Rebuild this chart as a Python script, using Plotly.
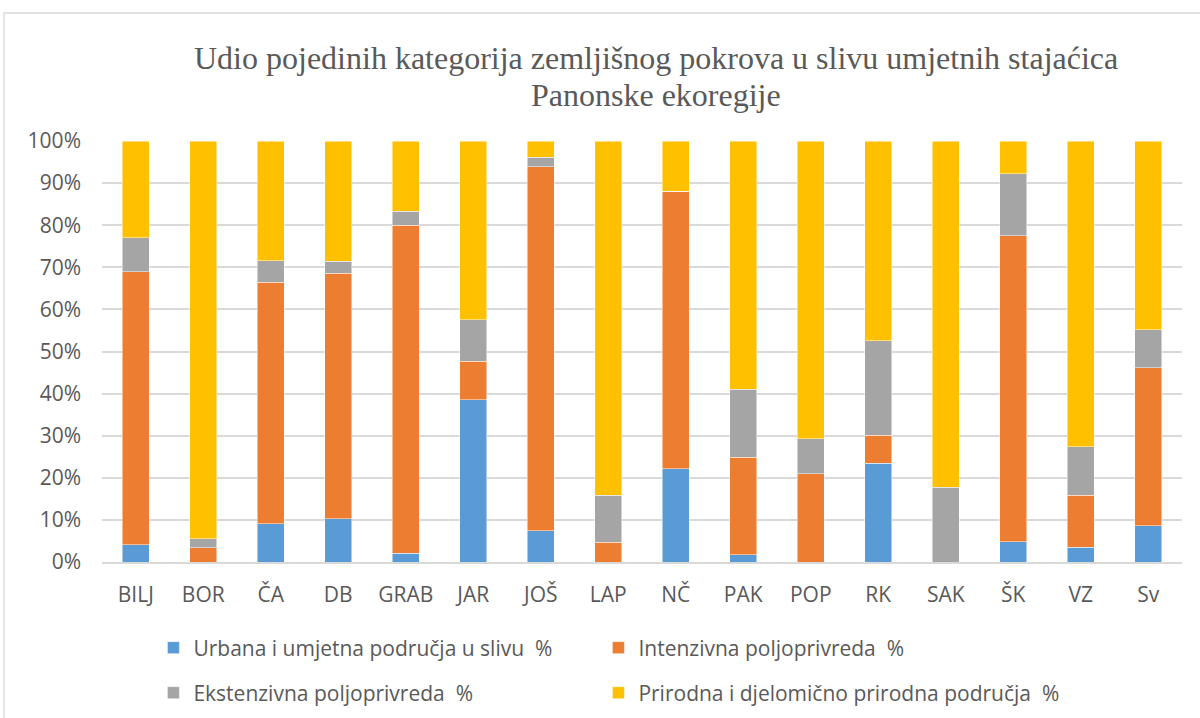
import plotly.graph_objects as go

# Land cover shares per reservoir catchment (percent)
sites = ["BILJ", "BOR", "ČA", "DB", "GRAB", "JAR", "JOŠ", "LAP",
         "NČ", "PAK", "POP", "RK", "SAK", "ŠK", "VZ", "Sv"]
urbana = [4.1, 0.0, 9.1, 10.3, 2.1, 38.5, 7.4, 0.0,
          22.2, 1.7, 0.0, 23.4, 0.0, 4.8, 3.5, 8.6]
intenzivna = [64.8, 3.4, 57.4, 58.3, 77.9, 9.2, 86.5, 4.7,
              65.9, 23.2, 21.0, 6.7, 0.0, 72.7, 12.4, 37.5]
ekstenzivna = [8.1, 2.1, 5.1, 2.8, 3.3, 9.9, 2.3, 11.1,
               0.0, 16.1, 8.3, 22.5, 17.8, 14.7, 11.5, 9.1]
prirodna = [23.0, 94.5, 28.4, 28.6, 16.7, 42.4, 3.8, 84.2,
            11.9, 59.0, 70.7, 47.4, 82.2, 7.8, 72.6, 44.8]

series = [
    ("Urbana i umjetna područja u slivu  %", urbana, "#5B9BD5", "legend", 400),
    ("Intenzivna poljoprivreda  %", intenzivna, "#ED7D31", "legend", 400),
    ("Ekstenzivna poljoprivreda  %", ekstenzivna, "#A5A5A5", "legend2", 400),
    ("Prirodna i djelomično prirodna područja  %", prirodna, "#FFC000", "legend2", 480),
]

title_lines = ["Udio pojedinih kategorija zemljišnog pokrova u slivu umjetnih stajaćica",
               "Panonske ekoregije"]

GREY = "#595959"
FONT = "Open Sans"

fig = go.Figure()
for name, vals, color, leg, lw in series:
    fig.add_trace(go.Bar(
        x=sites, y=vals, name=name, legend=leg, legendwidth=lw,
        marker=dict(color=color, line=dict(color="rgba(255,255,255,0.6)", width=0.8)),
    ))

legend_common = dict(
    orientation="h", xanchor="left", yanchor="middle", yref="container",
    entrywidthmode="pixels",
    font=dict(family=FONT, size=21, color=GREY),
    bgcolor="rgba(0,0,0,0)", traceorder="normal",
)

# two-line title as annotations so the line spacing can be controlled
title_anns = [
    dict(text=t, xref="paper", yref="paper", x=0.513, y=yy,
         xanchor="center", yanchor="middle", showarrow=False,
         font=dict(family="Liberation Serif", size=32, color=GREY))
    for t, yy in zip(title_lines, [1.197, 1.109])
]

fig.update_layout(
    width=1200, height=718,
    barmode="stack", barnorm="percent", bargap=0.6,
    paper_bgcolor="white", plot_bgcolor="white",
    margin=dict(l=102, r=18, t=141, b=156),
    annotations=title_anns,
    legend=dict(x=0.0476, y=0.0975, **legend_common),
    legend2=dict(x=0.0476, y=0.0348, **legend_common),
    xaxis=dict(
        showgrid=False, showline=True, linecolor="#D9D9D9", linewidth=1.5,
        ticks="", ticklabelstandoff=13,
        tickfont=dict(family=FONT, size=21, color=GREY),
    ),
    yaxis=dict(
        range=[0, 100], dtick=10, ticksuffix="%",
        showgrid=True, gridcolor="#D9D9D9", gridwidth=1.5,
        zeroline=False, showline=False, ticks="", ticklabelstandoff=20,
        tickfont=dict(family=FONT, size=21, color=GREY),
    ),
    shapes=[dict(
        type="rect", xref="paper", yref="paper",
        x0=-0.0907, x1=1.3, y0=-0.6, y1=1.304,
        line=dict(color="#D9D9D9", width=1.3), fillcolor="rgba(0,0,0,0)",
        layer="below",
    )],
)

fig.write_html("out.html", config={"displayModeBar": False},
               post_script="document.body.style.margin='0';")
